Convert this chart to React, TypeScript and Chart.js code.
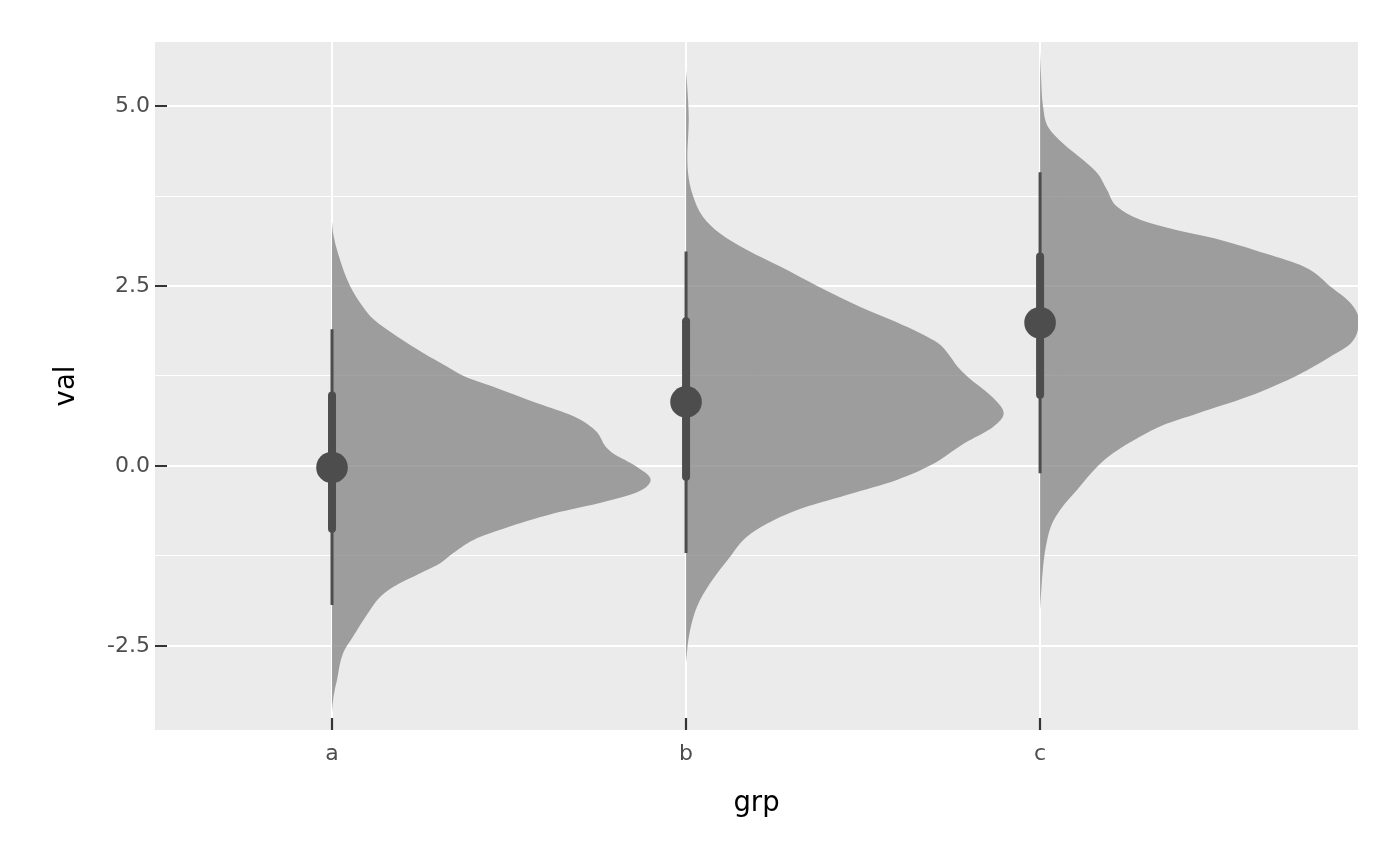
import React, { useEffect, useRef } from 'react';
import { Chart, registerables } from 'chart.js';

Chart.register(...registerables);

// ---- data ----
const categories = ['a', 'b', 'c'];
const yTickValues = [-2.5, -1.25, 0, 1.25, 2.5, 3.75, 5.0];
const yMajorTicks = [-2.5, 0, 2.5, 5.0];

// density outlines (value, relative density) per group
const aVal = [3.4, 3.2, 2.95, 2.5, 2.21, 2.03, 1.8, 1.57, 1.38, 1.24, 1.1, 0.87, 0.69, 0.55, 0.46, 0.27, 0.17, 0.0, -0.19, -0.36, -0.5, -0.66, -0.87, -1.0, -1.21, -1.35, -1.49, -1.68, -1.82, -2.0, -2.37, -2.6, -2.97, -3.2, -3.43];
const aDens = [0, 1.5, 6, 18, 31, 42, 65, 91, 115, 133, 161, 205, 241, 258, 265, 273, 281, 303, 318, 305, 271, 221, 171, 145, 121, 108, 88, 61, 48, 38, 21, 11, 5, 1.5, 0];

const bVal = [5.5, 5.2, 4.81, 4.5, 4.35, 4.07, 3.75, 3.46, 3.23, 3.0, 2.77, 2.5, 2.21, 1.93, 1.71, 1.57, 1.38, 1.24, 0.94, 0.73, 0.55, 0.31, 0.01, -0.19, -0.4, -0.61, -0.8, -0.98, -1.26, -1.63, -1.95, -2.28, -2.5, -2.74];
const bDens = [0, 1.5, 2.7, 1.8, 1.3, 2, 7, 17, 34, 61, 94, 131, 174, 221, 251, 261, 271, 281, 307, 317, 307, 277, 244, 211, 161, 111, 81, 61, 44, 24, 11, 4, 1.5, 0];

const cVal = [5.75, 5.4, 4.99, 4.71, 4.48, 4.25, 4.07, 3.83, 3.6, 3.42, 3.28, 3.14, 2.95, 2.77, 2.49, 2.26, 2.03, 1.7, 1.52, 1.26, 0.96, 0.73, 0.57, 0.41, 0.18, -0.01, -0.33, -0.61, -0.8, -1.03, -1.4, -1.77, -2.0];
const cDens = [0, 1, 3, 8, 23, 43, 57, 67, 77, 100, 135, 180, 225, 263, 290, 310, 318, 310, 290, 257, 207, 157, 123, 100, 73, 57, 37, 20, 12, 7, 3, 1, 0];

// point interval summaries
const medians = [-0.02, 0.89, 1.99];
const lo66 = [-0.87, -0.15, 0.99];
const hi66 = [0.98, 2.01, 2.91];
const lo95 = [-1.93, -1.21, -0.1];
const hi95 = [1.9, 2.98, 4.08];

// ---- styling ----
const FONT = 'DejaVu Sans';
const DARK = '#4D4D4D';
const SLAB_FILL = 'rgba(128,128,128,0.73)';
const SLAB_SCALE = 0.9;

const panelBg = {
  id: 'panelBg',
  beforeDraw(chart: any) {
    const { ctx, chartArea } = chart;
    ctx.save();
    ctx.fillStyle = '#EBEBEB';
    ctx.fillRect(chartArea.left, chartArea.top, chartArea.right - chartArea.left, chartArea.bottom - chartArea.top);
    ctx.restore();
  },
};

const tickMarks = {
  id: 'tickMarks',
  afterDraw(chart: any) {
    const { ctx, chartArea, scales } = chart;
    ctx.save();
    ctx.strokeStyle = '#333333';
    ctx.lineWidth = 2.2;
    ctx.beginPath();
    yMajorTicks.forEach((v) => {
      const py = Math.round(scales.y.getPixelForValue(v));
      ctx.moveTo(chartArea.left, py);
      ctx.lineTo(chartArea.left + 12, py);
    });
    categories.forEach((_, i) => {
      const px = Math.round(scales.x.getPixelForValue(i + 1));
      ctx.moveTo(px, chartArea.bottom);
      ctx.lineTo(px, chartArea.bottom - 12);
    });
    ctx.stroke();
    ctx.restore();
  },
};

export default function App() {
  const ref = useRef<HTMLCanvasElement | null>(null);

  useEffect(() => {
    if (!ref.current) return;
    const groups = [
      { vals: aVal, dens: aDens },
      { vals: bVal, dens: bDens },
      { vals: cVal, dens: cDens },
    ];
    const maxDens = Math.max(...aDens, ...bDens, ...cDens);

    const datasets: any[] = [];

    // medians (top)
    datasets.push({
      label: 'median',
      data: medians.map((m, i) => ({ x: i + 1, y: m })),
      showLine: false,
      pointRadius: 15.8,
      pointBackgroundColor: DARK,
      pointBorderWidth: 0,
      pointBorderColor: 'rgba(0,0,0,0)',
      order: 0,
    });

    // 66% intervals
    categories.forEach((_, i) => {
      datasets.push({
        label: 'q66-' + i,
        data: [{ x: i + 1, y: lo66[i] }, { x: i + 1, y: hi66[i] }],
        borderColor: DARK,
        borderWidth: 8,
        borderCapStyle: 'round',
        pointRadius: 0,
        fill: false,
        order: 1,
      });
    });

    // 95% intervals
    categories.forEach((_, i) => {
      datasets.push({
        label: 'q95-' + i,
        data: [{ x: i + 1, y: lo95[i] }, { x: i + 1, y: hi95[i] }],
        borderColor: DARK,
        borderWidth: 3,
        borderCapStyle: 'butt',
        pointRadius: 0,
        fill: false,
        order: 2,
      });
    });

    // density slabs
    groups.forEach((g, i) => {
      datasets.push({
        label: 'slab-' + categories[i],
        data: g.vals.map((v, k) => ({ x: i + 1 + (g.dens[k] / maxDens) * SLAB_SCALE, y: v })),
        borderWidth: 0,
        borderColor: 'rgba(0,0,0,0)',
        backgroundColor: SLAB_FILL,
        fill: { value: i + 1 },
        pointRadius: 0,
        cubicInterpolationMode: 'monotone',
        order: 3,
      });
    });

    const chart = new Chart(ref.current, {
      type: 'line',
      data: { datasets },
      options: {
        indexAxis: 'y',
        responsive: false,
        animation: false,
        events: [],
        devicePixelRatio: 1,
        layout: { padding: { left: 0, top: 42, right: 42, bottom: 0 } },
        plugins: {
          legend: { display: false },
          tooltip: { enabled: false },
        },
        scales: {
          x: {
            type: 'linear',
            position: 'bottom',
            min: 0.5,
            max: 3.898,
            afterBuildTicks: (s: any) => {
              s.ticks = categories.map((_, i) => ({ value: i + 1 }));
            },
            afterFit: (s: any) => {
              s.height = 136;
            },
            ticks: {
              autoSkip: false,
              maxRotation: 0,
              padding: 11,
              color: DARK,
              font: { family: FONT, size: 22 },
              callback: (v: any) => categories[Math.round(Number(v)) - 1] ?? '',
            },
            grid: {
              color: '#FFFFFF',
              lineWidth: 2,
              drawTicks: false,
            },
            border: { display: false },
            title: {
              display: true,
              text: 'grp',
              color: '#000000',
              font: { family: FONT, size: 27.5 },
              padding: { top: 0, bottom: 46 },
            },
          },
          y: {
            type: 'linear',
            position: 'left',
            min: -3.667,
            max: 5.889,
            afterBuildTicks: (s: any) => {
              s.ticks = yTickValues.map((v) => ({ value: v }));
            },
            afterFit: (s: any) => {
              s.width = 155;
            },
            ticks: {
              autoSkip: false,
              padding: 5,
              color: DARK,
              font: { family: FONT, size: 22 },
              callback: (v: any) => (yMajorTicks.includes(Number(v)) ? Number(v).toFixed(1) : ''),
            },
            grid: {
              color: '#FFFFFF',
              lineWidth: (c: any) => (c.tick && yMajorTicks.includes(c.tick.value) ? 2 : 1),
              drawTicks: false,
            },
            border: { display: false },
            title: {
              display: true,
              text: 'val',
              color: '#000000',
              font: { family: FONT, size: 27.5 },
              padding: { top: 50, bottom: 0 },
            },
          },
        },
      } as any,
      plugins: [panelBg, tickMarks],
    });

    return () => chart.destroy();
  }, []);

  return (
    <div style={{ position: 'absolute', left: 0, top: 0, width: 1400, height: 866, background: '#FFFFFF' }}>
      <canvas ref={ref} width={1400} height={866} style={{ display: 'block', width: 1400, height: 866 }} />
    </div>
  );
}
